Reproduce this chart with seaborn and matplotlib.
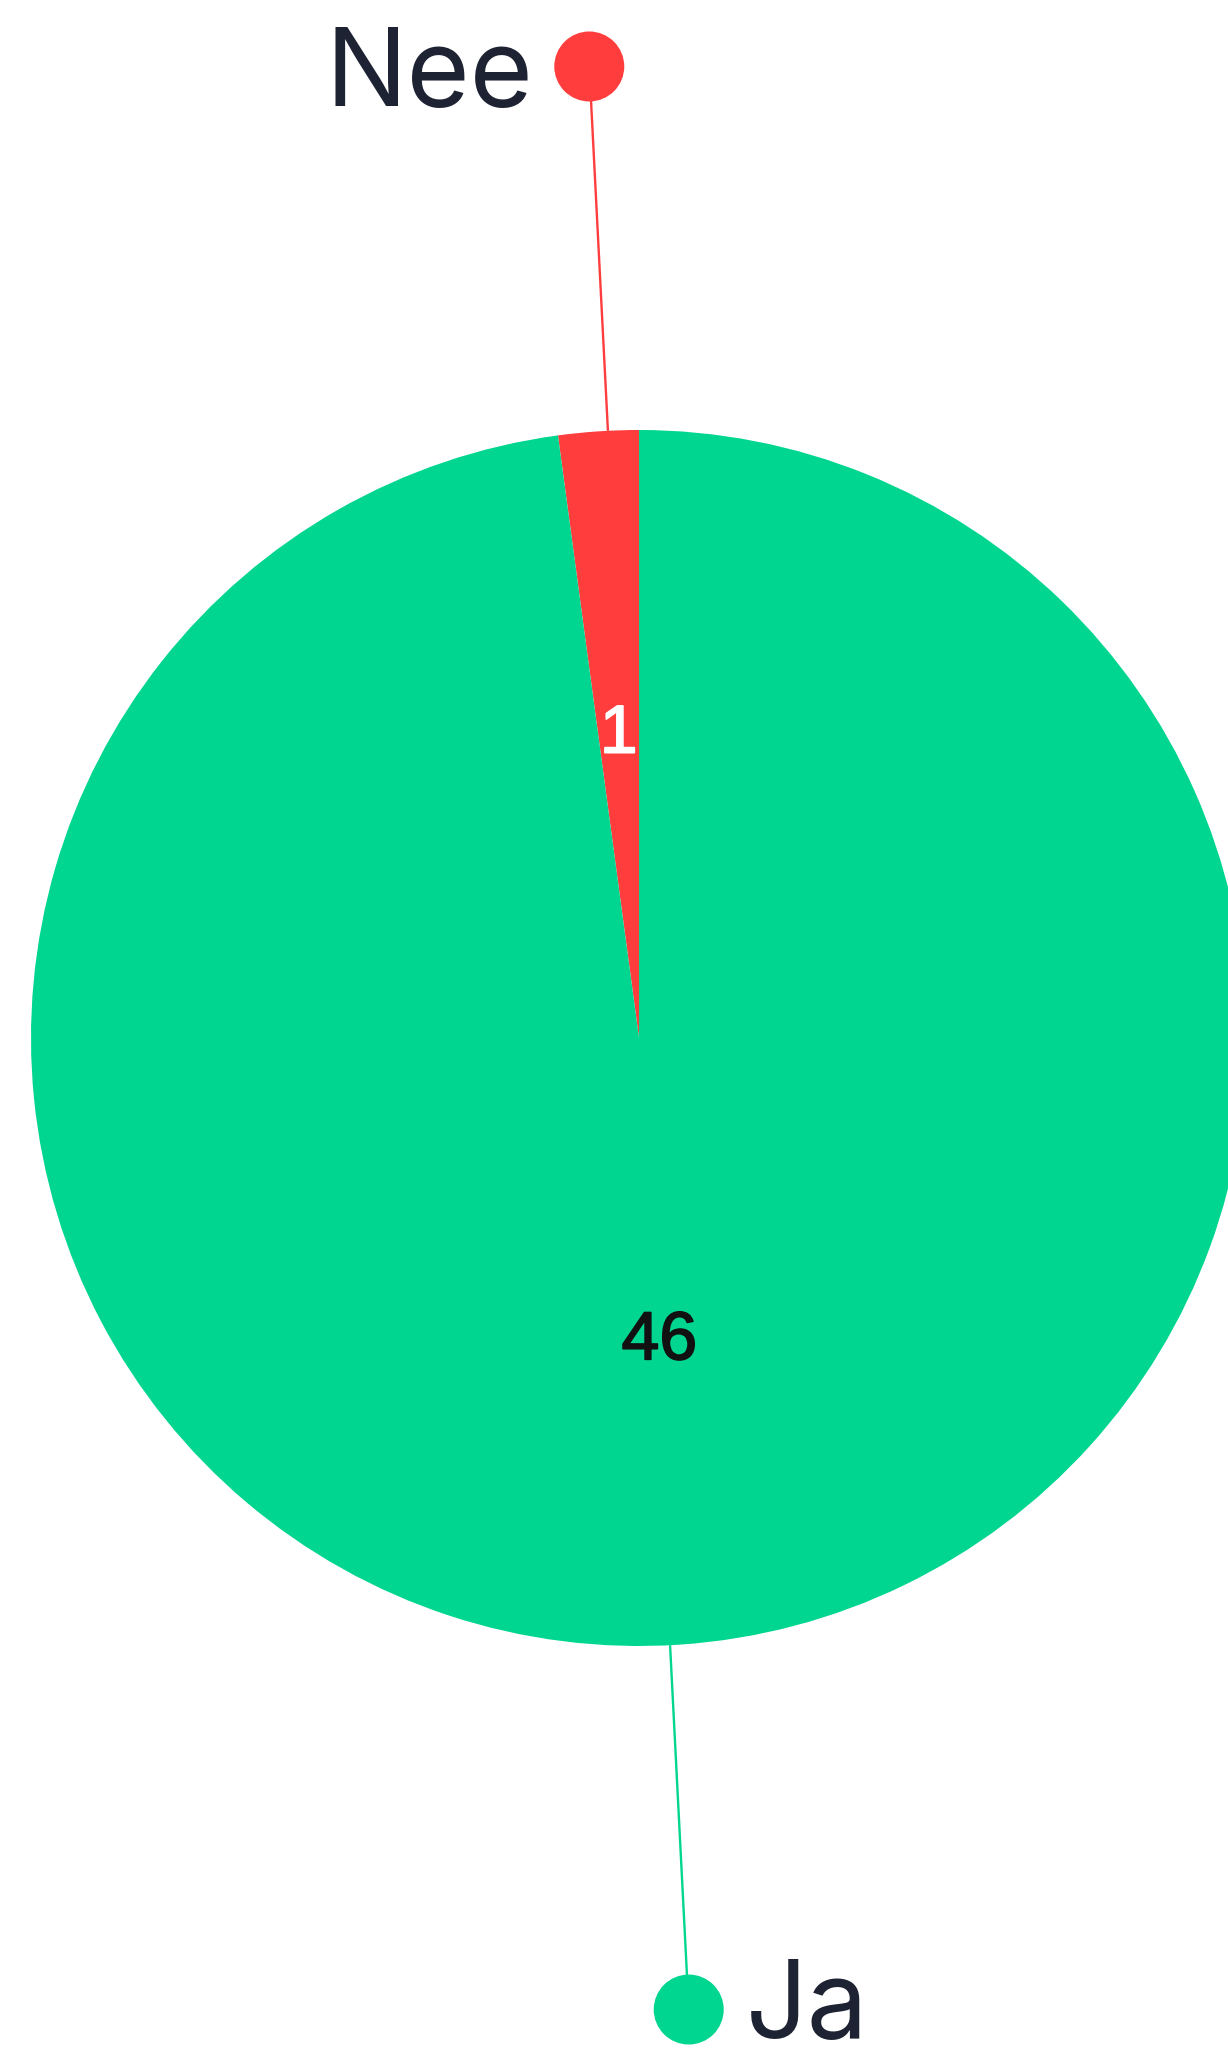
import matplotlib
matplotlib.use("Agg")
import matplotlib.pyplot as plt
import matplotlib.patheffects as pe
import seaborn as sns
import numpy as np
import pandas as pd

# ---- data ----
categories = ["Nee", "Ja"]
counts = [1, 46]
slice_colors = ["#FF3D3D", "#00D68F"]
value_text_colors = ["#FFFFFF", "#111111"]

# ---- style ----
sns.set_theme(style="white")
plt.rcParams["font.family"] = ["Inter", "DejaVu Sans"]

W, H = 1228, 2063
fig = plt.figure(figsize=(W / 100, H / 100), dpi=100, facecolor="white")
ax = fig.add_axes([0, 0, 1, 1])
ax.set_facecolor("white")

cx, cy = 639, H - 1038
R = 608
leader_rot = -0.9  # degrees

total = sum(counts)
wedges, texts, autotexts = ax.pie(
    counts,
    colors=slice_colors,
    startangle=90,
    counterclock=True,
    center=(cx, cy),
    radius=R,
    autopct=lambda p: f"{int(round(p * total / 100))}",
    pctdistance=0.5,
    textprops=dict(fontsize=49, family=["Liberation Sans", "DejaVu Sans"]),
    wedgeprops=dict(linewidth=0),
)
for t, c in zip(autotexts, value_text_colors):
    t.set_color(c)
    t.set_path_effects([pe.withStroke(linewidth=1.2, foreground=c)])

# leader lines + dots
rows = []
for w, cat, col in zip(wedges, categories, slice_colors):
    mid = np.deg2rad((w.theta1 + w.theta2) / 2 + leader_rot)
    ex, ey = cx + R * np.cos(mid), cy + R * np.sin(mid)
    dx, dy = cx + 1.6 * R * np.cos(mid), cy + 1.6 * R * np.sin(mid)
    ax.plot([ex, dx], [ey, dy], color=col, lw=1.7, zorder=3, solid_capstyle="butt")
    rows.append(dict(category=cat, x=dx, y=dy))

dots = pd.DataFrame(rows)
sns.scatterplot(
    data=dots, x="x", y="y", hue="category",
    palette=dict(zip(categories, slice_colors)),
    s=2540, linewidth=0, legend=False, ax=ax, zorder=4,
)

for _, r in dots.iterrows():
    if r.x < cx:
        ax.text(r.x - 56, r.y - 40, r.category, ha="right", va="baseline",
                fontsize=78, color="#1E2333")
    else:
        ax.text(r.x + 57, r.y, r.category, ha="left", va="center",
                fontsize=78, color="#1E2333")

ax.set_xlim(0, W)
ax.set_ylim(0, H)
ax.set_aspect("equal")
ax.axis("off")

fig.savefig("out.png", dpi=100, facecolor="white")
